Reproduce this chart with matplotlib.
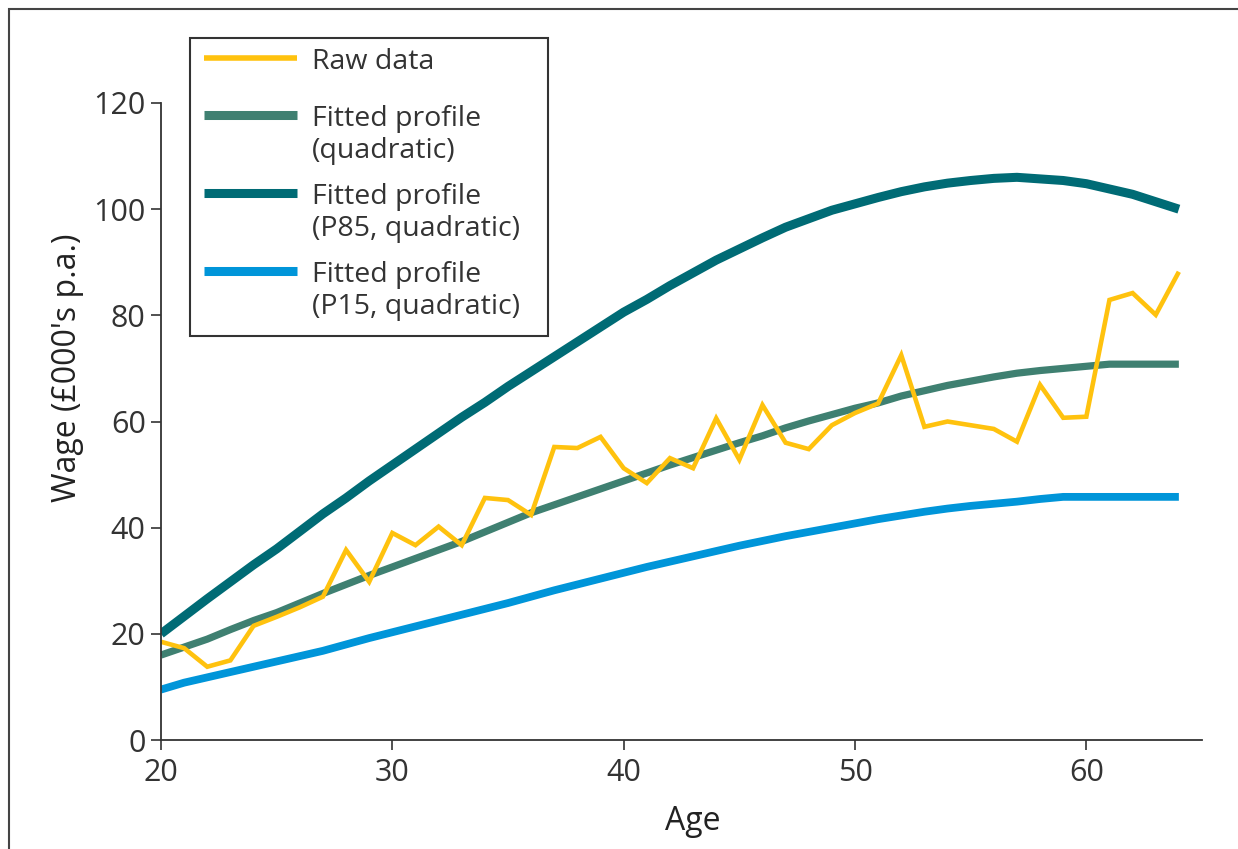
import numpy as np
import matplotlib
matplotlib.use("Agg")
import matplotlib.pyplot as plt
from matplotlib.patches import Rectangle
from matplotlib.lines import Line2D

plt.rcParams['font.family'] = ['Open Sans', 'DejaVu Sans']

# edades 20..64
edad = list(range(20, 65))

raw = [18.5, 17.3, 13.8, 15.0, 21.5, 23.2, 25.0, 27.0, 35.8, 29.8,
       39.0, 36.7, 40.2, 36.7, 45.6, 45.2, 42.4, 55.2, 55.0, 57.1,
       51.2, 48.4, 53.1, 51.2, 60.6, 52.8, 63.1, 56.0, 54.8, 59.3,
       61.6, 63.4, 72.5, 59.0, 60.0, 59.3, 58.6, 56.2, 66.9, 60.7,
       60.9, 82.9, 84.2, 80.1, 88.2]

quad = [16.0, 17.5, 19.0, 20.8, 22.5, 24.0, 25.8, 27.6, 29.3, 31.0,
        32.6, 34.2, 35.8, 37.4, 39.2, 41.0, 42.8, 44.3, 45.8, 47.3,
        48.8, 50.3, 51.8, 53.2, 54.6, 56.0, 57.3, 58.8, 60.1, 61.3,
        62.5, 63.5, 64.8, 65.8, 66.8, 67.6, 68.4, 69.1, 69.6, 70.0,
        70.4, 70.8, 70.8, 70.8, 70.8]

p85 = [20.0, 23.3, 26.6, 29.8, 33.0, 36.0, 39.3, 42.6, 45.6, 48.8,
       51.8, 54.8, 57.8, 60.8, 63.6, 66.6, 69.4, 72.2, 75.0, 77.8,
       80.6, 83.0, 85.6, 88.0, 90.4, 92.5, 94.6, 96.6, 98.2, 99.8,
       101.0, 102.2, 103.3, 104.2, 104.9, 105.4, 105.8, 106.0, 105.7, 105.4,
       104.8, 103.8, 102.8, 101.4, 100.0]

p15 = [9.5, 10.8, 11.8, 12.8, 13.8, 14.8, 15.8, 16.8, 18.0, 19.2,
       20.3, 21.4, 22.5, 23.6, 24.7, 25.8, 27.0, 28.2, 29.3, 30.4,
       31.5, 32.6, 33.6, 34.6, 35.6, 36.6, 37.5, 38.4, 39.2, 40.0,
       40.8, 41.6, 42.3, 43.0, 43.6, 44.1, 44.5, 44.9, 45.4, 45.8,
       45.8, 45.8, 45.8, 45.8, 45.8]

etiquetas = ['Raw data', 'Fitted profile\n(quadratic)',
             'Fitted profile\n(P85, quadratic)', 'Fitted profile\n(P15, quadratic)']
colores = ['#FFC20E', '#3F8071', '#006B75', '#0095D9']
anchos = [3.3, 5.2, 6.5, 5.6]

W, H = 1238, 849
fig = plt.figure(figsize=(W/100, H/100), dpi=100)
ax = fig.add_axes([161/W, 1-740/H, (1202-161)/W, (740-103)/H])

# marco exterior
fig.add_artist(Rectangle((9/W, -0.1), 1.2, (H-9)/H + 0.1, transform=fig.transFigure,
                         fill=False, edgecolor='#444444', linewidth=1.5))

series = [raw, quad, p85, p15]
for i in [1, 0, 2, 3]:
    ax.plot(edad, series[i], color=colores[i], lw=anchos[i],
            solid_joinstyle='miter', solid_capstyle='butt')

ax.set_xlim(20, 65)
ax.set_ylim(0, 120)
ax.set_xticks([20, 30, 40, 50, 60])
ax.set_yticks([0, 20, 40, 60, 80, 100, 120])
for s in ['top', 'right']:
    ax.spines[s].set_visible(False)
for s in ['left', 'bottom']:
    ax.spines[s].set_color('#333333')
    ax.spines[s].set_linewidth(1.3)
ax.tick_params(direction='out', length=7, width=1.2, color='#333333',
               labelsize=22, labelcolor='#333333')
ax.tick_params(axis='x', pad=6)
ax.tick_params(axis='y', pad=4)
ax.set_xlabel('Age', fontsize=23, color='#222222')
ax.set_ylabel("Wage (£000's p.a.)", fontsize=23, color='#222222')
ax.xaxis.set_label_coords((693-161)/1041, (740-805)/637)
ax.yaxis.set_label_coords((84-161)/1041, (740-368)/637)

# leyenda manual
fig.add_artist(Rectangle((190/W, 1-336/H), (548-190)/W, (336-38)/H, transform=fig.transFigure,
                         fill=True, facecolor='white', edgecolor='#333333', linewidth=1.5, zorder=5))
y = 58
for lab, c, a in zip(etiquetas, colores, anchos):
    grosor = 4 if c == colores[0] else 6.5
    fig.add_artist(Line2D([204/W, 297/W], [1-y/H, 1-y/H], color=c, lw=grosor,
                          solid_capstyle='butt', transform=fig.transFigure, zorder=6))
    lineas = lab.split('\n')
    for k, t in enumerate(lineas):
        fig.text(312/W, 1-(y+11+k*32)/H, t, fontsize=20.5, color='#333333',
                 va='baseline', ha='left', zorder=6)
    y += 36 + 21*len(lineas)

fig.savefig('out.png', dpi=100)
